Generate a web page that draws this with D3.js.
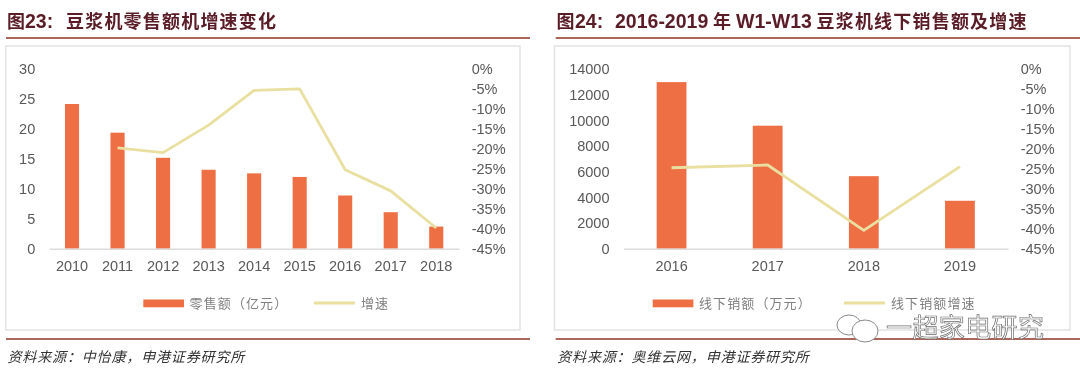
<!DOCTYPE html>
<html>
<head>
<meta charset="utf-8">
<script src="https://cdn.jsdelivr.net/npm/d3@7"></script>
<style>
  html, body { margin: 0; background: #fff; }
  svg { display: block; filter: blur(0.35px); }
  .tick text { font: 14.5px "Liberation Sans", Arial, sans-serif; fill: #595959; }
  .cjk { font-family: "Noto Sans CJK SC", sans-serif; }
  .latin { font-family: "Liberation Sans", Arial, sans-serif; font-weight: bold; }
</style>
</head>
<body>
<div id="chart"></div>
<script>
const retailYears = ['2010', '2011', '2012', '2013', '2014', '2015', '2016', '2017', '2018']
const retailSales = [24.2, 19.4, 15.2, 13.2, 12.6, 12, 8.9, 6.1, 3.7]
const retailGrowth = [null, -19.7, -20.9, -14, -5.3, -4.9, -25.2, -30.5, -39.8]
const retailTicks = [0, 5, 10, 15, 20, 25, 30]

const offlineYears = ['2016', '2017', '2018', '2019']
const offlineSales = [13000, 9600, 5660, 3740]
const offlineGrowth = [-24.7, -24, -40.4, -24.4]
const offlineTicks = [0, 2000, 4000, 6000, 8000, 10000, 12000, 14000]

const growthTicks = [0, -5, -10, -15, -20, -25, -30, -35, -40, -45]

const barColor = '#ef6f45'
const lineColor = '#e8dfa0'
const ruleColor = '#8f3322'
const titleColor = '#5a1c26'

const plotTop = 69.3
const plotBottom = 248.7

const svg = d3.select('#chart').append('svg')
    .attr('width', 1080)
    .attr('height', 374)

const drawPanel = ({left, right, frameX, frameWidth, ruleX, ruleEnd, categories, bars, growth, ticks, titleParts, barLabel, lineLabel, legendX, source}) => {
  const g = svg.append('g')

  g.append('rect')
      .attr('x', frameX)
      .attr('y', 46)
      .attr('width', frameWidth)
      .attr('height', 284)
      .attr('fill', '#fff')
      .attr('stroke', '#e3e3e3')
      .attr('stroke-width', 1.5)

  const rule = y => g.append('line')
      .attr('x1', ruleX).attr('x2', ruleEnd)
      .attr('y1', y).attr('y2', y)
      .attr('stroke', ruleColor)
      .attr('stroke-width', 1.6)
  rule(38)
  rule(339)

  titleParts.forEach(p => {
    g.append('text')
        .attr('class', p.latin ? 'latin' : 'cjk')
        .attr('x', p.x)
        .attr('y', 28)
        .attr('fill', titleColor)
        .attr('font-size', p.latin ? 19.5 : 18)
        .attr('font-weight', 'bold')
        .attr('letter-spacing', p.latin ? 0 : 1.2)
        .text(p.text)
  })

  const x = d3.scaleBand()
      .domain(categories)
      .range([left, right])
      .paddingInner(0.69)
      .paddingOuter(0.345)
  const y = d3.scaleLinear().domain([0, d3.max(ticks)]).range([plotBottom, plotTop])
  const yGrowth = d3.scaleLinear().domain([-45, 0]).range([plotBottom, plotTop])

  g.selectAll('.bar')
    .data(bars)
    .join('rect')
      .attr('class', 'bar')
      .attr('x', (d, i) => x(categories[i]))
      .attr('y', d => y(d))
      .attr('width', x.bandwidth())
      .attr('height', d => y(0) - y(d))
      .attr('fill', barColor)

  const xAxis = g.append('g')
      .attr('transform', `translate(0,${plotBottom})`)
      .call(d3.axisBottom(x).tickSize(0).tickPadding(12))
  xAxis.select('.domain').attr('stroke', '#dcdcdc').attr('stroke-width', 1.5)

  g.append('g')
      .attr('transform', `translate(${left},0)`)
      .call(d3.axisLeft(y).tickValues(ticks).tickSize(0).tickPadding(14).tickFormat(d3.format('d')))
      .call(a => a.select('.domain').remove())

  g.append('g')
      .attr('transform', `translate(${right},0)`)
      .call(d3.axisRight(yGrowth).tickValues(growthTicks).tickSize(0).tickPadding(12.7).tickFormat(d => d + '%'))
      .call(a => a.select('.domain').remove())

  const line = d3.line()
      .defined(d => d !== null)
      .x((d, i) => x(categories[i]) + x.bandwidth() / 2)
      .y(d => yGrowth(d))

  g.append('path')
      .attr('d', line(growth))
      .attr('fill', 'none')
      .attr('stroke', lineColor)
      .attr('stroke-width', 2.8)
      .attr('stroke-linejoin', 'round')

  // legend
  g.append('rect')
      .attr('x', legendX.bar)
      .attr('y', 299.5)
      .attr('width', 40.7)
      .attr('height', 7.8)
      .attr('fill', barColor)
  g.append('line')
      .attr('x1', legendX.line).attr('x2', legendX.line + 41)
      .attr('y1', 303).attr('y2', 303)
      .attr('stroke', lineColor)
      .attr('stroke-width', 2.8)

  const legendText = (tx, label) => g.append('text')
      .attr('class', 'cjk')
      .attr('x', tx)
      .attr('y', 308)
      .attr('fill', '#7f7f7f')
      .attr('font-size', 13)
      .attr('letter-spacing', 1.1)
      .text(label)
  legendText(legendX.bar + 46.3, barLabel)
  legendText(legendX.line + 47, lineLabel)

  g.append('text')
      .attr('class', 'cjk')
      .attr('x', ruleX + 1.5)
      .attr('y', 362)
      .attr('fill', '#333')
      .attr('font-size', 14)
      .attr('font-style', 'italic')
      .attr('letter-spacing', 0.85)
      .text(source)
}

drawPanel({
  left: 49.25,
  right: 459,
  frameX: 5.7,
  frameWidth: 514.3,
  ruleX: 6,
  ruleEnd: 530,
  categories: retailYears,
  bars: retailSales,
  growth: retailGrowth,
  ticks: retailTicks,
  titleParts: [
    {text: '图', x: 7},
    {text: '23:', x: 25, latin: true},
    {text: '豆浆机零售额机增速变化', x: 66}
  ],
  barLabel: '零售额（亿元）',
  lineLabel: '增速',
  legendX: {bar: 143.3, line: 314},
  source: '资料来源：中怡康，申港证券研究所'
})

drawPanel({
  left: 623.5,
  right: 1008,
  frameX: 554.5,
  frameWidth: 515.5,
  ruleX: 555.7,
  ruleEnd: 1080,
  categories: offlineYears,
  bars: offlineSales,
  growth: offlineGrowth,
  ticks: offlineTicks,
  titleParts: [
    {text: '图', x: 556.5},
    {text: '24:', x: 575, latin: true},
    {text: '2016-2019', x: 615, latin: true},
    {text: '年', x: 713},
    {text: 'W1-W13', x: 736, latin: true},
    {text: '豆浆机线下销售额及增速', x: 816.5}
  ],
  barLabel: '线下销额（万元）',
  lineLabel: '线下销额增速',
  legendX: {bar: 652.7, line: 844},
  source: '资料来源：奥维云网，申港证券研究所'
})

// watermark
const mark = svg.append('g')
mark.append('text')
    .attr('class', 'cjk')
    .attr('x', 886)
    .attr('y', 337)
    .attr('font-size', 26)
    .attr('letter-spacing', 0.4)
    .attr('fill', '#fff')
    .attr('stroke', '#6e6e6e')
    .attr('stroke-width', 0.7)
    .text('一超家电研究')
mark.append('ellipse')
    .attr('cx', 849).attr('cy', 325).attr('rx', 12).attr('ry', 10)
    .attr('fill', '#fff').attr('stroke', '#8a8a8a').attr('stroke-width', 1)
mark.append('ellipse')
    .attr('cx', 865).attr('cy', 331).attr('rx', 13).attr('ry', 11)
    .attr('fill', '#fff').attr('stroke', '#8a8a8a').attr('stroke-width', 1)
</script>
</body>
</html>
